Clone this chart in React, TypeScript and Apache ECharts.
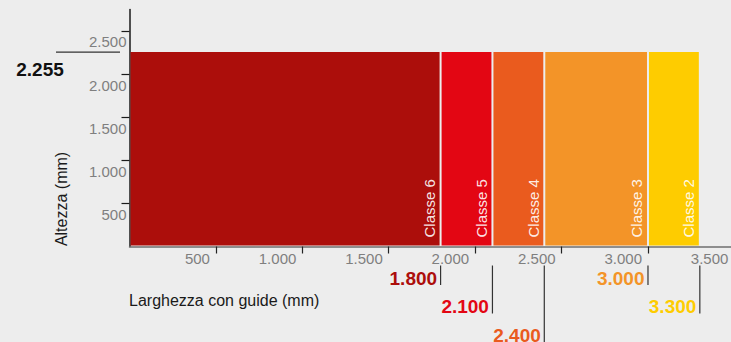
import { useEffect, useRef } from "react";
import * as echarts from "echarts";

const classNames = ["Classe 6", "Classe 5", "Classe 4", "Classe 3", "Classe 2"];
const classWidths = [1800, 2100, 2400, 3000, 3300];
const doorHeight = 2255;
const xTickValues = [500, 1000, 1500, 2000, 2500, 3000, 3500];
const yTickValues = [500, 1000, 1500, 2000, 2500];
const xMax = 3500;
const yMax = 2750;
const xTitle = "Larghezza con guide (mm)";
const yTitle = "Altezza (mm)";

const classColors = ["#ac0e0b", "#e30613", "#ea5b1e", "#f39428", "#fecc00"];

const fmt = (v: number) => String(v).replace(/\B(?=(\d{3})+(?!\d))/g, ".");

const FONT = '"Liberation Sans", Arial, Helvetica, sans-serif';

export default function App() {
  const ref = useRef<HTMLDivElement>(null);
  useEffect(() => {
    document.body.style.margin = "0";
    const chart = echarts.init(ref.current!, null, { renderer: "svg" });
    const barData = classWidths.map((w, i) => [i === 0 ? 0 : classWidths[i - 1], w, doorHeight, i]);
    chart.setOption({
      animation: false,
      backgroundColor: "#ededed",
      textStyle: { fontFamily: FONT },
      grid: { left: 129.5, right: -3.4, top: 9.4, bottom: 95.5, containLabel: false, outerBoundsMode: "none" },
      xAxis: {
        type: "value",
        min: 0,
        max: xMax,
        interval: 500,
        axisLine: { show: true, lineStyle: { color: "#6e6e6e", width: 1.5 } },
        axisTick: { show: true, customValues: xTickValues, length: 7, lineStyle: { color: "#222", width: 1.2 } },
        axisLabel: {
          customValues: xTickValues,
          formatter: fmt,
          align: "right",
          verticalAlign: "top",
          margin: 3,
          lineHeight: 18,
          padding: [0, 6, 0, 0],
          color: "#7f7f7f",
          fontSize: 15,
          fontFamily: FONT,
        },
        splitLine: { show: false },
      },
      yAxis: {
        type: "value",
        min: 0,
        max: yMax,
        interval: 500,
        axisLine: { show: true, lineStyle: { color: "#1a1a1a", width: 1.5 } },
        axisTick: { show: true, customValues: yTickValues, length: 8, lineStyle: { color: "#1a1a1a", width: 1.2 } },
        axisLabel: {
          customValues: yTickValues,
          formatter: fmt,
          align: "right",
          verticalAlign: "top",
          margin: 3,
          lineHeight: 18,
          padding: [2, 0, 0, 0],
          color: "#7f7f7f",
          fontSize: 15,
          fontFamily: FONT,
        },
        splitLine: { show: false },
      },
      graphic: [
        {
          type: "text",
          x: 61,
          y: 199,
          rotation: Math.PI / 2,
          style: { text: yTitle, align: "center", verticalAlign: "middle", font: `16px ${FONT}`, fill: "#1a1a1a" },
        },
        {
          type: "text",
          x: 129,
          y: 300,
          style: { text: xTitle, align: "left", verticalAlign: "middle", font: `16px ${FONT}`, fill: "#1a1a1a" },
        },
      ],
      series: [
        {
          type: "custom",
          dimensions: ["start", "end", "height", "idx"],
          encode: { x: [0, 1], y: 2 },
          data: barData,
          renderItem: (params: any, api: any) => {
            const start = api.value(0);
            const end = api.value(1);
            const h = api.value(2);
            const i = api.value(3);
            const p0 = api.coord([start, 0]);
            const p1 = api.coord([end, h]);
            const color = classColors[i];
            const row = i % 3;
            const axisY = p0[1];
            return {
              type: "group",
              children: [
                {
                  type: "rect",
                  shape: { x: p0[0] + 1, y: p1[1], width: p1[0] - p0[0] - 2, height: axisY - p1[1] - 1 },
                  style: { fill: color },
                },
                {
                  type: "text",
                  x: p1[0] - 11,
                  y: axisY - 9,
                  rotation: Math.PI / 2,
                  style: {
                    text: classNames[i],
                    fill: "rgba(255,255,255,0.9)",
                    font: `15px ${FONT}`,
                    align: "left",
                    verticalAlign: "middle",
                  },
                },
                {
                  type: "line",
                  shape: { x1: p1[0], y1: axisY + 19, x2: p1[0], y2: axisY + 38.5 + row * 28.5 },
                  style: { stroke: "#333", lineWidth: 1.2 },
                },
                {
                  type: "text",
                  x: p1[0] - 3.5,
                  y: axisY + 31.5 + row * 28.5,
                  style: {
                    text: fmt(end),
                    fill: color,
                    font: `bold 19px ${FONT}`,
                    align: "right",
                    verticalAlign: "middle",
                  },
                },
              ],
            };
          },
        },
        {
          type: "custom",
          dimensions: ["x", "height"],
          encode: { x: 0, y: 1 },
          data: [[0, doorHeight]],
          renderItem: (params: any, api: any) => {
            const p = api.coord([api.value(0), api.value(1)]);
            return {
              type: "group",
              children: [
                {
                  type: "line",
                  shape: { x1: p[0] - 73.5, y1: p[1], x2: p[0] - 9.5, y2: p[1] },
                  style: { stroke: "#333", lineWidth: 1.2 },
                },
                {
                  type: "text",
                  x: p[0] - 89.5,
                  y: p[1] + 17,
                  style: {
                    text: fmt(api.value(1)),
                    fill: "#111",
                    font: `bold 19px ${FONT}`,
                    align: "center",
                    verticalAlign: "middle",
                  },
                },
              ],
            };
          },
        },
      ],
    });
    return () => chart.dispose();
  }, []);
  return <div ref={ref} style={{ width: 731, height: 342 }} />;
}
